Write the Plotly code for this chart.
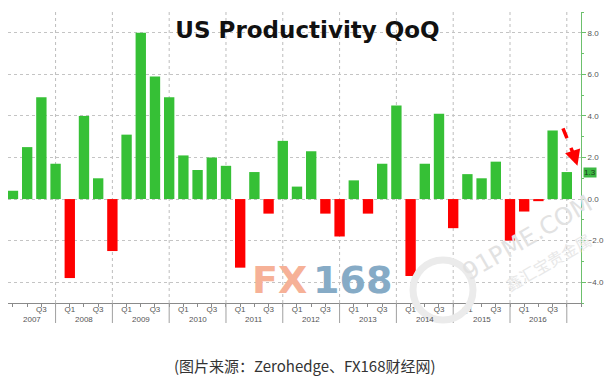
import plotly.graph_objects as go

# ---- data ----
years = list(range(2007, 2017))
quarters = [f"{y}Q{q}" for y in years for q in (1, 2, 3, 4)]
values = [0.4, 2.5, 4.9, 1.7,
          -3.8, 4.0, 1.0, -2.5,
          3.1, 8.0, 5.9, 4.9,
          2.1, 1.4, 2.0, 1.6,
          -3.3, 1.3, -0.7, 2.8,
          0.6, 2.3, -0.7, -1.8,
          0.9, -0.7, 1.7, 4.5,
          -3.7, 1.7, 4.1, -1.4,
          1.2, 1.0, 1.8, -2.0,
          -0.6, -0.1, 3.3, 1.3]
year_labels = [str(y) for y in years]
last_label = "1.3"

GREEN = "#36c036"
RED = "#fe0000"
x = list(range(len(values)))
colors = [GREEN if v >= 0 else RED for v in values]

# window-pixel helpers (page body has an 8px margin)
PL, PR, PT, PB = 8, 581, 12, 303          # plot area in window pixels
PW, PH = PR - PL, PB - PT
def px(wx):
    return (wx - PL) / PW
def py(wy):
    return (PB - wy) / PH

fig = go.Figure()
fig.add_trace(go.Bar(x=x, y=values, marker=dict(color=colors, line=dict(width=0)),
                     width=0.73, showlegend=False, hoverinfo="skip"))

tickvals = [i for i, q in enumerate(quarters) if (q.endswith("Q1") or q.endswith("Q3")) and i > 0]
ticktext = [quarters[i][-2:] for i in tickvals]
q4_idx = [i for i, q in enumerate(quarters) if q.endswith("Q4")]

shapes = []
for i in q4_idx:
    shapes.append(dict(type="line", xref="x", yref="paper", x0=i, x1=i, y0=0, y1=1,
                       line=dict(color="#bdbdbd", width=1, dash="dot"), layer="below"))
    shapes.append(dict(type="line", xref="x", yref="paper", x0=i, x1=i, y0=0, y1=py(323),
                       line=dict(color="#a0a0a0", width=1)))

# red dashed arrow shaft
shapes.append(dict(type="line", xref="x", yref="y", x0=38.73, y0=3.4, x1=39.45, y1=2.2,
                   line=dict(color=RED, width=3.5, dash="dash")))
# faint watermark ring
shapes.append(dict(type="circle", xref="paper", yref="paper",
                   x0=px(413), x1=px(473), y0=py(320), y1=py(260),
                   line=dict(color="#ebebeb", width=7)))

annotations = []
xmin, xmax = -0.35, 40.0
for k, y in enumerate(years):
    lo = max(xmin, 4 * k - 1)
    hi = min(xmax, 4 * k + 3)
    annotations.append(dict(x=(lo + hi) / 2, y=py(319), xref="x", yref="paper",
                            text=year_labels[k], showarrow=False,
                            font=dict(family="Liberation Sans", size=8, color="#555"),
                            xanchor="center", yanchor="middle"))
# last value tag
annotations.append(dict(x=1.0, y=values[-1], xref="paper", yref="y", xanchor="left",
                        yanchor="middle", xshift=2, text=last_label, showarrow=False,
                        bgcolor="#3cb843",
                        font=dict(family="Liberation Sans", size=8, color="#1d3a1d"),
                        borderpad=0))
# arrow head
annotations.append(dict(x=39.75, y=1.6, ax=39.42, ay=2.3, xref="x", yref="y",
                        axref="x", ayref="y", text="", showarrow=True, arrowhead=2,
                        arrowsize=0.9, arrowwidth=3.5, arrowcolor=RED))
# watermarks
wm = dict(showarrow=False, xref="paper", yref="paper", xanchor="center", yanchor="middle")
annotations.append(dict(x=px(279), y=py(280), text="<b>FX</b>",
                        font=dict(family="DejaVu Sans", size=38, color="#f6b197"), **wm))
annotations.append(dict(x=px(352), y=py(280), text="<b>168</b>",
                        font=dict(family="DejaVu Sans", size=38, color="#86abc6"), **wm))
annotations.append(dict(x=px(527), y=py(238), text="91PME.COM", textangle=-30,
                        font=dict(family="DejaVu Sans", size=24, color="#e2e2e2"), **wm))
annotations.append(dict(x=px(548), y=py(262), text="鑫汇宝贵金属", textangle=-30,
                        font=dict(family="Noto Sans CJK SC", size=16, color="#e8e8e8"), **wm))
# caption
annotations.append(dict(x=px(305), y=py(365), text="(图片来源：Zerohedge、FX168财经网)",
                        font=dict(family="Noto Sans CJK SC", size=15, color="#333"), **wm))

FW, FH = 615 - 8, 379 - 8
fig.update_layout(
    width=FW, height=FH,
    margin=dict(l=PL - 8, r=615 - PR, t=PT - 8, b=FH - (PB - 8), autoexpand=False),
    paper_bgcolor="white", plot_bgcolor="white",
    title=dict(text="<b>US Productivity QoQ</b>", x=(307.5 - 8) / FW, y=1 - (30 - 8) / FH,
               xanchor="center", yanchor="middle",
               font=dict(family="DejaVu Sans", size=23, color="#111")),
    xaxis=dict(range=[xmin, xmax], tickvals=tickvals, ticktext=ticktext,
               showgrid=False, zeroline=False, showline=True, linecolor="#8a8a8a",
               ticks="outside", ticklen=3, tickcolor="#8a8a8a", ticklabelstandoff=-5,
               minor=dict(dtick=1, tick0=0, ticks="outside", ticklen=3, tickcolor="#8a8a8a"),
               tickfont=dict(family="Liberation Sans", size=8, color="#555")),
    yaxis=dict(side="right", range=[-5, 9], tickvals=[-4, -2, 0, 2, 4, 6, 8],
               tickformat=".1f", showgrid=True, gridcolor="#c4c4c4", griddash="dot",
               zeroline=False, showline=True, linecolor="#6cc06c", linewidth=1,
               ticks="outside", ticklen=4, tickcolor="#6cc06c",
               minor=dict(dtick=1, tick0=0, ticks="outside", ticklen=2, tickcolor="#6cc06c"),
               tickfont=dict(family="Liberation Sans", size=8, color="#555")),
    shapes=shapes, annotations=annotations,
)

fig.write_html("out.html")
